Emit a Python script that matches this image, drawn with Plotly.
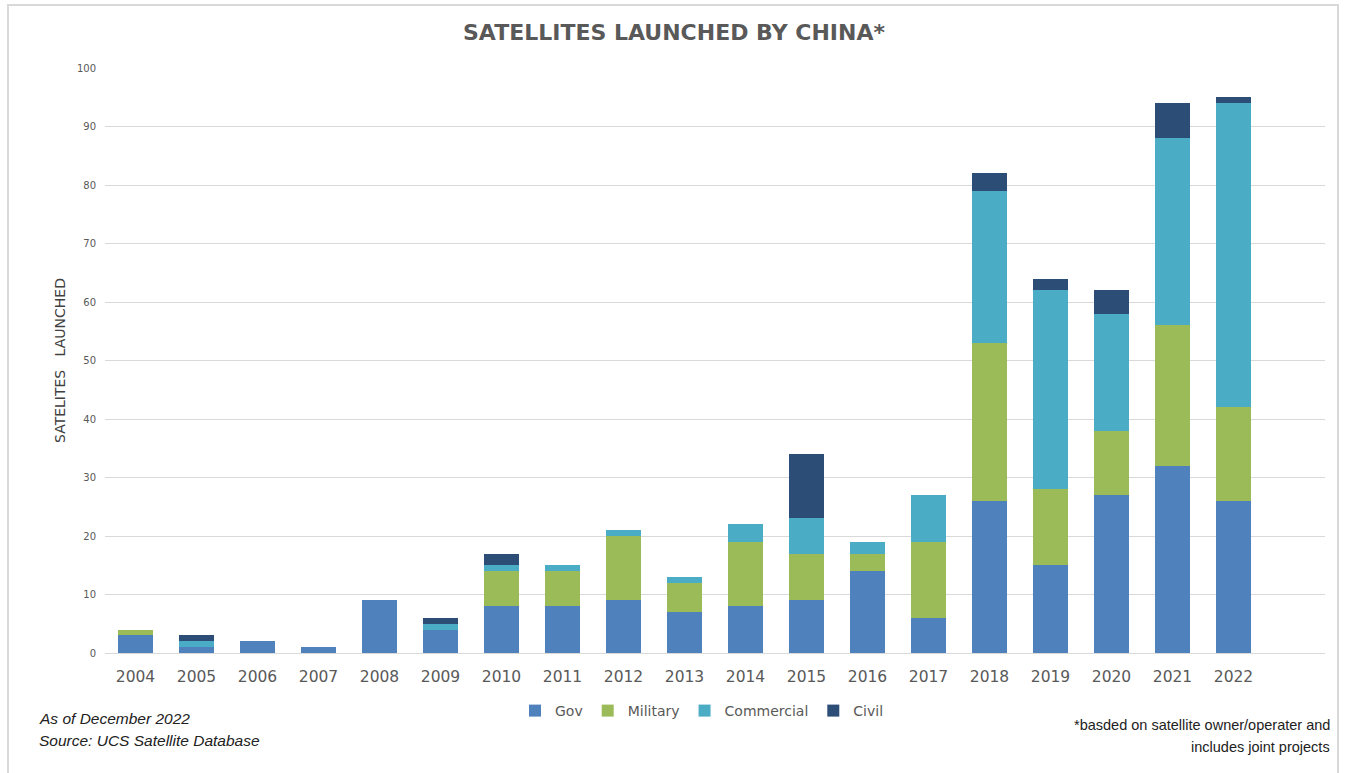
import plotly.graph_objects as go

years = ["2004", "2005", "2006", "2007", "2008", "2009", "2010", "2011", "2012", "2013",
         "2014", "2015", "2016", "2017", "2018", "2019", "2020", "2021", "2022"]
gov = [3, 1, 2, 1, 9, 4, 8, 8, 9, 7, 8, 9, 14, 6, 26, 15, 27, 32, 26]
military = [1, 0, 0, 0, 0, 0, 6, 6, 11, 5, 11, 8, 3, 13, 27, 13, 11, 24, 16]
commercial = [0, 1, 0, 0, 0, 1, 1, 1, 1, 1, 3, 6, 2, 8, 26, 34, 20, 32, 52]
civil = [0, 1, 0, 0, 0, 1, 2, 0, 0, 0, 0, 11, 0, 0, 3, 2, 4, 6, 1]

series = [("Gov", gov, "#4F81BD"), ("Military", military, "#9BBB59"),
          ("Commercial", commercial, "#4BACC6"), ("Civil", civil, "#2C4D75")]

W, H = 1346, 773
L, R, T, B = 105, 1325, 68, 653


def px(x):
    return (x - L) / (R - L)


def py(y):
    return (B - y) / (B - T)


fig = go.Figure()
for name, vals, col in series:
    fig.add_trace(go.Bar(x=years, y=vals, name=name, marker_color=col,
                         marker_line_width=0, width=0.57))

fig.update_layout(
    width=W, height=H, autosize=False,
    margin=dict(l=L, r=W - R, t=T, b=H - B),
    barmode="stack",
    plot_bgcolor="white", paper_bgcolor="white",
    font=dict(family="DejaVu Sans", color="#595959"),
    xaxis=dict(type="category", range=[-0.5, 19.5], showgrid=False,
               showline=True, linecolor="#D9D9D9", linewidth=1,
               tickfont=dict(size=15.5, color="#595959"), ticks="",
               ticklabelstandoff=9),
    yaxis=dict(range=[0, 100], dtick=10, showgrid=True, gridcolor="#D9D9D9",
               gridwidth=1, zeroline=False, tickfont=dict(size=10, color="#595959"),
               ticks="", ticklabelstandoff=8),
    legend=dict(orientation="h", x=px(702), xanchor="center", y=py(711), yanchor="middle",
                font=dict(size=14, color="#595959"), traceorder="normal",
                itemwidth=30, bgcolor="rgba(0,0,0,0)"),
    showlegend=True,
)

fig.add_annotation(text="<b>SATELLITES LAUNCHED BY CHINA*</b>", xref="paper", yref="paper",
                   x=px(674), y=py(33), xanchor="center", yanchor="middle", showarrow=False,
                   font=dict(size=22, color="#595959", family="DejaVu Sans"))
fig.add_annotation(text="SATELITES   LAUNCHED", xref="paper", yref="paper",
                   x=px(60), y=py(361), xanchor="center", yanchor="middle", showarrow=False,
                   textangle=-90, font=dict(size=14, color="#404040"))
fig.add_annotation(text="<i>As of December 2022</i>", xref="paper", yref="paper",
                   x=px(37), y=py(718), xanchor="left", yanchor="middle", showarrow=False,
                   font=dict(size=15.5, color="#222222", family="Liberation Sans"))
fig.add_annotation(text="<i>Source: UCS Satellite Database</i>", xref="paper", yref="paper",
                   x=px(37), y=py(740), xanchor="left", yanchor="middle", showarrow=False,
                   font=dict(size=15.5, color="#222222", family="Liberation Sans"))
fig.add_annotation(text="*basded on satellite owner/operater and", xref="paper", yref="paper",
                   x=px(1332), y=py(725), xanchor="right", yanchor="middle", showarrow=False,
                   font=dict(size=14.5, color="#222222", family="Liberation Sans"))
fig.add_annotation(text="includes joint projects", xref="paper", yref="paper",
                   x=px(1332), y=py(747), xanchor="right", yanchor="middle", showarrow=False,
                   font=dict(size=14.5, color="#222222", family="Liberation Sans"))

fig.add_shape(type="rect", xref="paper", yref="paper",
              x0=px(8), x1=px(1338), y0=py(5), y1=py(780),
              line=dict(color="#D9D9D9", width=2), fillcolor="rgba(0,0,0,0)", layer="below")

fig.write_html("out.html")
